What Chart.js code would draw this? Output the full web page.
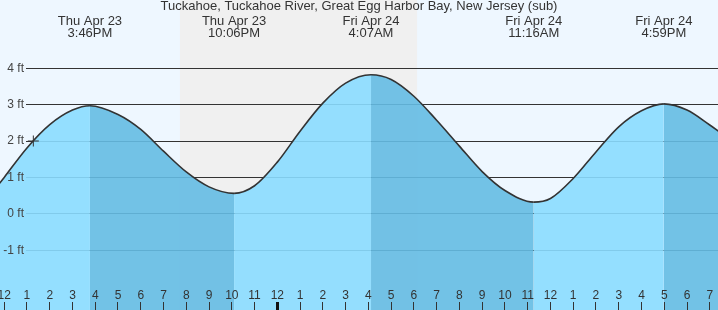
<!DOCTYPE html>
<html>
<head>
<meta charset="utf-8">
<script src="https://cdn.jsdelivr.net/npm/chart.js@4.4.1/dist/chart.umd.min.js"></script>
<style>
  html, body { margin: 0; padding: 0; background: #eef7ff; }
  #wrap { width: 718px; height: 310px; position: relative; }
</style>
</head>
<body>
<div id="wrap"><canvas id="tide"></canvas></div>
<script>
// hours are counted from noon, Thu Apr 23
const curveHours = [-0.25, 0, 1, 2, 3, 3.767, 5, 6, 7, 8, 9, 10.1, 11, 12, 13, 14, 15, 16.117, 17, 18, 19, 20, 21, 22, 23.267, 24, 25, 26, 27, 28, 28.983, 30, 31, 31.5];
const curveFeet  = [0.80, 1.00, 1.81, 2.45, 2.85, 2.97, 2.73, 2.32, 1.72, 1.15, 0.74, 0.56, 0.77, 1.42, 2.27, 3.04, 3.59, 3.82, 3.69, 3.23, 2.57, 1.86, 1.16, 0.64, 0.32, 0.42, 0.97, 1.70, 2.39, 2.83, 3.02, 2.85, 2.44, 2.22];

const extremeHours = [3.767, 10.1, 16.117, 23.267, 28.983];
const extremeDays  = ['Thu Apr 23', 'Thu Apr 23', 'Fri Apr 24', 'Fri Apr 24', 'Fri Apr 24'];
const extremeTimes = ['3:46PM', '10:06PM', '4:07AM', '11:16AM', '4:59PM'];

const hourTicks  = [0, 1, 2, 3, 4, 5, 6, 7, 8, 9, 10, 11, 12, 13, 14, 15, 16, 17, 18, 19, 20, 21, 22, 23, 24, 25, 26, 27, 28, 29, 30, 31];
const hourLabels = ['12', '1', '2', '3', '4', '5', '6', '7', '8', '9', '10', '11', '12', '1', '2', '3', '4', '5', '6', '7', '8', '9', '10', '11', '12', '1', '2', '3', '4', '5', '6', '7'];
const midnightHour = 12;

const ftTicks = [-1, 0, 1, 2, 3, 4];

const nightStart = 7.72;   // sunset
const nightEnd = 18.14;    // sunrise

const markerHours = [1.28];
const markerFeet = [2.0];

const title = 'Tuckahoe, Tuckahoe River, Great Egg Harbor Bay, New Jersey (sub)';

const xMin = -0.1845, xMax = 31.362;
const yMin = -2.643, yMax = 5.874;

const riseFill = 'rgba(137,219,255,0.9)';
const fallFill = 'rgba(100,187,227,0.9)';
const font = "'Liberation Sans', Arial, sans-serif";

Chart.defaults.font.family = font;

const backdrop = {
    id: 'backdrop',
    beforeDraw(chart) {
        const {ctx, scales: {x}} = chart;
        ctx.save();
        ctx.fillStyle = '#eef7ff';
        ctx.fillRect(0, 0, chart.width, chart.height);
        const x0 = x.getPixelForValue(nightStart);
        const x1 = x.getPixelForValue(nightEnd);
        ctx.fillStyle = '#f0f0f0';
        ctx.fillRect(x0, 0, x1 - x0, chart.height);
        ctx.restore();
    }
};

// axes take no room: labels are drawn over the plot like the original
const flatX = s => { s.height = 0; s.paddingLeft = 0; s.paddingRight = 0; };
const flatY = s => { s.width = 0; s.paddingTop = 0; s.paddingBottom = 0; };

new Chart(document.getElementById('tide'), {
    type: 'line',
    data: {
        datasets: [
            {
                data: markerHours.map((h, i) => ({x: h, y: markerFeet[i]})),
                showLine: false,
                pointStyle: 'cross',
                pointRadius: 5.5,
                borderColor: '#333',
                borderWidth: 1,
                fill: false
            },
            {
                data: curveHours.map((h, i) => ({x: h, y: curveFeet[i]})),
                borderColor: '#333',
                borderWidth: 1.6,
                backgroundColor: riseFill,
                pointRadius: 0,
                fill: 'start',
                cubicInterpolationMode: 'monotone',
                segment: {
                    backgroundColor: c => c.p1.parsed.y < c.p0.parsed.y ? fallFill : riseFill
                }
            }
        ]
    },
    options: {
        responsive: true,
        maintainAspectRatio: false,
        animation: false,
        layout: {padding: 0, autoPadding: false},
        plugins: {
            legend: {display: false},
            tooltip: {enabled: false},
            title: {
                display: true,
                text: title,
                color: '#333',
                font: {size: 13, weight: 'normal', lineHeight: '14px'},
                padding: {top: -0.5, bottom: -13.5}
            }
        },
        scales: {
            x: {
                type: 'linear',
                position: 'bottom',
                min: xMin, max: xMax, bounds: 'data',
                afterBuildTicks: s => { s.ticks = hourTicks.map(v => ({value: v})); },
                afterFit: flatX,
                border: {display: false},
                grid: {
                    drawOnChartArea: false,
                    tickLength: -8,
                    z: 1,
                    tickColor: c => c.tick && c.tick.value === midnightHour ? '#111' : '#333',
                    tickWidth: c => c.tick && c.tick.value === midnightHour ? 3 : 1
                },
                ticks: {
                    autoSkip: false, maxRotation: 0, minRotation: 0,
                    mirror: true, padding: 7.5, z: 1, color: '#333',
                    font: {size: 12, lineHeight: '14px'},
                    callback: (v, i) => hourLabels[i]
                }
            },
            top: {
                type: 'linear',
                axis: 'x',
                position: 'top',
                min: xMin, max: xMax, bounds: 'data',
                afterBuildTicks: s => { s.ticks = extremeHours.map(v => ({value: v})); },
                afterFit: flatX,
                border: {display: false},
                grid: {display: false, drawTicks: false},
                ticks: {
                    autoSkip: false, maxRotation: 0, minRotation: 0,
                    mirror: true, padding: 3.2, color: '#333',
                    font: {size: 13, lineHeight: '12px'},
                    callback: (v, i) => [extremeDays[i], extremeTimes[i]]
                }
            },
            y: {
                type: 'linear',
                position: 'left',
                min: yMin, max: yMax, bounds: 'data',
                afterBuildTicks: s => { s.ticks = ftTicks.map(v => ({value: v})); },
                afterFit: flatY,
                border: {display: false},
                grid: {display: false, drawTicks: false},
                ticks: {
                    mirror: true, crossAlign: 'far', padding: 3.3, z: 1, color: '#444',
                    font: {size: 12},
                    callback: v => v + ' ft'
                }
            },
            yGrid: {
                type: 'linear',
                axis: 'y',
                position: 'right',
                min: yMin, max: yMax, bounds: 'data',
                afterBuildTicks: s => { s.ticks = ftTicks.map(v => ({value: v})); },
                afterFit: flatY,
                border: {display: false},
                grid: {drawOnChartArea: false, tickLength: -692, tickColor: '#333', tickWidth: 1},
                ticks: {display: false}
            }
        }
    },
    plugins: [backdrop]
});
</script>
</body>
</html>
